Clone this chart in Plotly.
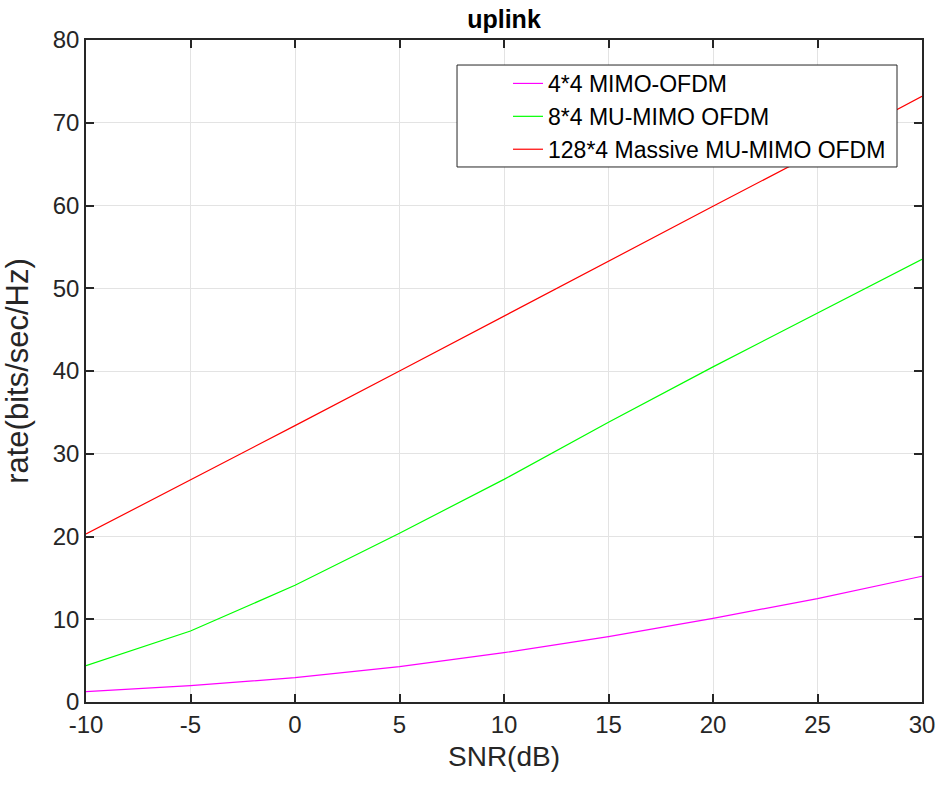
import plotly.graph_objects as go

snr = [-10, -5, 0, 5, 10, 15, 20, 25, 30]
mimo_4x4 = [1.25, 1.97, 2.94, 4.27, 5.96, 7.9, 10.1, 12.5, 15.2]
mumimo_8x4 = [4.39, 8.58, 14.1, 20.4, 26.9, 33.8, 40.5, 47.0, 53.5]
massive_128x4 = [20.3, 26.8, 33.4, 40.0, 46.6, 53.2, 59.9, 66.5, 73.2]

names = ["4*4 MIMO-OFDM", "8*4 MU-MIMO OFDM", "128*4 Massive MU-MIMO OFDM"]
colors = ["#ff00ff", "#00ff00", "#ff0000"]
series = [mimo_4x4, mumimo_8x4, massive_128x4]

x_ticks = [-10, -5, 0, 5, 10, 15, 20, 25, 30]
y_ticks = [0, 10, 20, 30, 40, 50, 60, 70, 80]

font_family = "Liberation Sans, Arial, Helvetica, sans-serif"

fig = go.Figure()
for name, col, ys in zip(names, colors, series):
    fig.add_trace(go.Scatter(x=snr, y=ys, mode="lines", name=name,
                             line=dict(color=col, width=1.2)))

axis_common = dict(
    showline=True, linecolor="#262626", linewidth=1.5, mirror="ticks",
    ticks="inside", ticklen=8, tickwidth=1.5, tickcolor="#262626",
    showgrid=True, gridcolor="#e3e3e3", gridwidth=1, zeroline=False,
    automargin=False,
    tickfont=dict(size=24, color="#262626", family=font_family),
)

# legend frame (white box with dark border), legend entries drawn on top
fig.add_shape(type="rect", xref="paper", yref="paper",
              x0=0.4438, x1=0.9701, y0=0.8082, y1=0.9622,
              line=dict(color="#262626", width=1), fillcolor="white", layer="above")

fig.update_layout(
    width=939, height=785,
    paper_bgcolor="white", plot_bgcolor="white",
    margin=dict(l=86, r=17, t=40, b=83, autoexpand=False),
    font=dict(family=font_family, color="#262626"),
    title=dict(text="<b>uplink</b>", x=0.5, xanchor="center", y=0.976, yref="container",
               yanchor="middle",
               font=dict(size=25, color="black", family=font_family),
               xref="paper"),
    xaxis=dict(range=[-10, 30], tickvals=x_ticks, ticktext=[str(v) for v in x_ticks],
               title=dict(text="SNR(dB)", font=dict(size=28, color="#262626"), standoff=10),
               **axis_common),
    yaxis=dict(range=[0, 80], tickvals=y_ticks, ticktext=[str(v) for v in y_ticks],
               title=dict(text="rate(bits/sec/Hz)", font=dict(size=31, color="#262626"), standoff=22),
               **axis_common),
    legend=dict(x=0.5048, y=0.9668, xanchor="left", yanchor="top",
                bgcolor="rgba(0,0,0,0)", borderwidth=0,
                font=dict(size=23, color="black", family=font_family),
                tracegroupgap=0),
    showlegend=True,
)

fig.write_html("out.html", config={"displayModeBar": False},
               post_script="document.body.style.margin='0';")
